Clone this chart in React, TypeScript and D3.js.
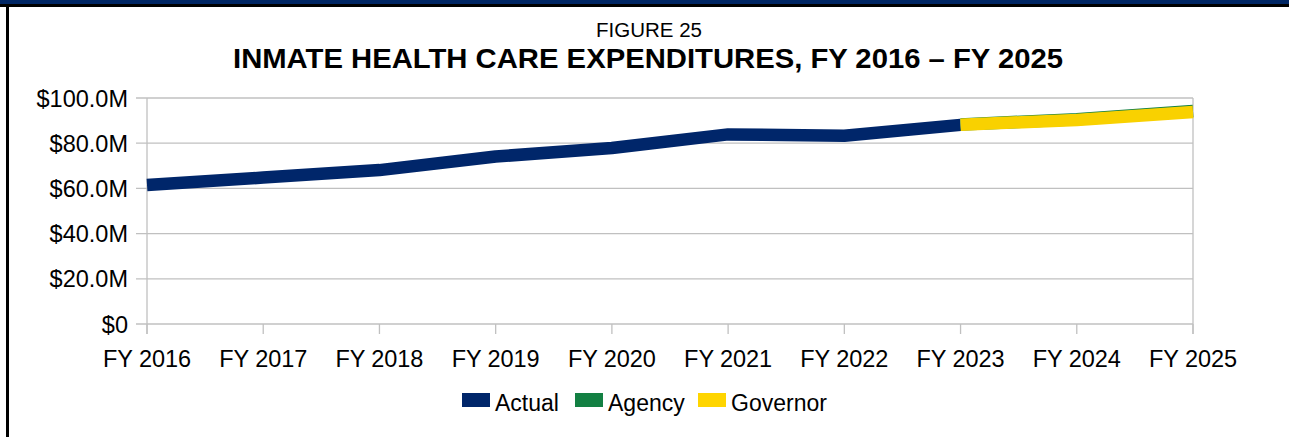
import React from "react";
import * as d3 from "d3";

const categories = ["FY 2016", "FY 2017", "FY 2018", "FY 2019", "FY 2020", "FY 2021", "FY 2022", "FY 2023", "FY 2024", "FY 2025"];
const actual: (number | null)[] = [61.5, 64.8, 68.1, 74.1, 77.9, 83.9, 83.3, 88.1, null, null];
const agency: (number | null)[] = [null, null, null, null, null, null, null, 88.3, 90.6, 94.2];
const governor: (number | null)[] = [null, null, null, null, null, null, null, 88.2, 90.3, 93.8];
const yTicks = [0, 20, 40, 60, 80, 100];
const legendItems = ["Actual", "Agency", "Governor"];

const W = 1289;
const H = 437;
const NAVY = "#00266A";
const GREEN = "#138043";
const YELLOW = "#F9D100";
const FONT = "Liberation Sans, Arial, sans-serif";

export default function App() {
  const x = d3.scalePoint<string>().domain(categories).range([147, 1193]);
  const y = d3.scaleLinear().domain([0, 100]).range([324, 98]);
  const fmt = (v: number) => (v === 0 ? "$0" : `$${v.toFixed(1)}M`);

  const mkLine = (vals: (number | null)[]) =>
    d3
      .line<number | null>()
      .defined((d) => d !== null)
      .x((_, i) => x(categories[i]) as number)
      .y((d) => y(d as number))(vals) || "";

  const series = [
    { name: "Actual", vals: actual, color: NAVY, swatch: NAVY },
    { name: "Agency", vals: agency, color: GREEN, swatch: GREEN },
    { name: "Governor", vals: governor, color: YELLOW, swatch: "#FFD500" },
  ];
  const legendX = [462, 575, 698];

  return (
    <svg width={W} height={H} style={{ position: "absolute", left: 0, top: 0 }} fontFamily={FONT}>
      <rect x={0} y={0} width={W} height={H} fill="#fff" />
      <rect x={0} y={0} width={W} height={4} fill="#002664" />
      <rect x={0} y={4} width={W} height={3} fill="#000" />
      <rect x={6} y={4} width={3} height={H - 4} fill="#000" />

      <text x={649} y={37} textAnchor="middle" fontSize={20.5} fill="#000">FIGURE 25</text>
      <text x={648} y={68} textAnchor="middle" fontSize={28.5} fontWeight="bold" fill="#000" textLength={830} lengthAdjust="spacingAndGlyphs">
        INMATE HEALTH CARE EXPENDITURES, FY 2016 – FY 2025
      </text>

      {yTicks.map((t) => (
        <g key={t}>
          <line x1={136} x2={1193} y1={y(t)} y2={y(t)} stroke="#c0c0c0" strokeWidth={1.3} />
          <text x={128} y={y(t) + 8.5} textAnchor="end" fontSize={23.5} fill="#000">{fmt(t)}</text>
        </g>
      ))}
      <line x1={147} x2={147} y1={98} y2={334} stroke="#c0c0c0" strokeWidth={1.3} />
      <line x1={1193} x2={1193} y1={98} y2={334} stroke="#c0c0c0" strokeWidth={1.3} />
      {categories.map((c) => (
        <g key={c}>
          <line x1={x(c)} x2={x(c)} y1={324} y2={334} stroke="#c0c0c0" strokeWidth={1.3} />
          <text x={x(c)} y={367} textAnchor="middle" fontSize={23.5} fill="#000" textLength={88} lengthAdjust="spacing">{c}</text>
        </g>
      ))}

      {series.map((s) => (
        <path key={s.name} d={mkLine(s.vals)} fill="none" stroke={s.color} strokeWidth={12.5} strokeLinejoin="bevel" strokeLinecap="butt" />
      ))}

      {legendItems.map((name, i) => (
        <g key={name}>
          <rect x={legendX[i]} y={393} width={28} height={14} fill={series[i].swatch} />
          <text x={legendX[i] + 33} y={411} fontSize={23} fill="#000">{name}</text>
        </g>
      ))}
    </svg>
  );
}
